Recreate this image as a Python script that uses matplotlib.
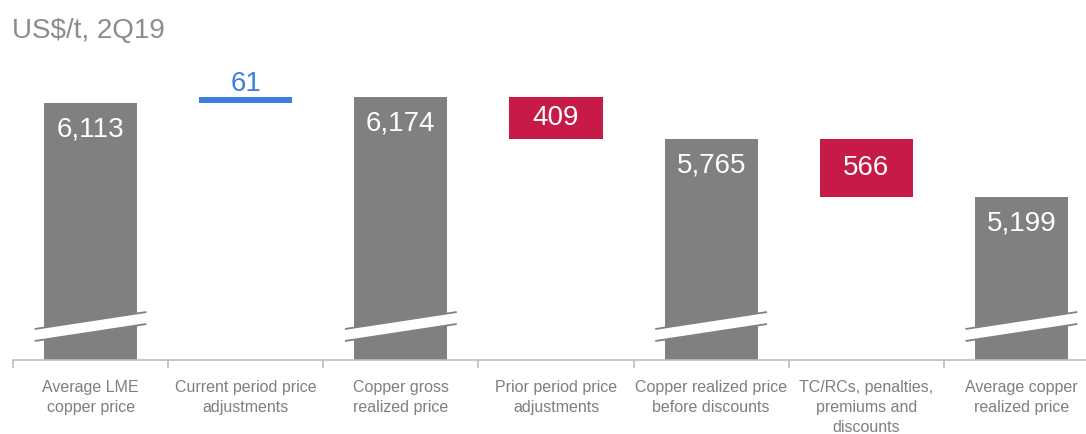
import matplotlib
matplotlib.use("Agg")
import matplotlib.pyplot as plt
from matplotlib import font_manager
from matplotlib.patches import Polygon

# Copper price bridge, US$/t for 2Q19
categories = [
    "Average LME\ncopper price",
    "Current period price\nadjustments",
    "Copper gross\nrealized price",
    "Prior period price\nadjustments",
    "Copper realized price\nbefore discounts",
    "TC/RCs, penalties,\npremiums and\ndiscounts",
    "Average copper\nrealized price",
]
start_value = 6113
deltas = {1: 61, 3: -409, 5: -566}
totals = {0: 6113, 2: 6174, 4: 5765, 6: 5199}
delta_labels = {1: "61", 3: "409", 5: "566"}

GRAY = "#7f8082"
RED = "#c71a46"
BLUE = "#3d7fe0"
TEXT = "#7f7f7f"
AXIS = "#bdbdbd"

available = {f.name for f in font_manager.fontManager.ttflist}
main_font = "Liberation Sans" if "Liberation Sans" in available else "DejaVu Sans"

W, H = 1086, 435
fig = plt.figure(figsize=(W / 100, H / 100), dpi=100)
ax = fig.add_axes([13 / W, 74 / H, 1086 / W, 361 / H])
ax.set_xlim(-0.5, 6.5)
ax.set_ylim(3610, 7130)

bar_w = 0.6
n = len(categories)

# running level for the bridge
level = start_value
bottoms, heights, colors = [], [], []
for i in range(n):
    if i in totals:
        level = totals[i]
        bottoms.append(ax.get_ylim()[0])
        heights.append(level - ax.get_ylim()[0])
        colors.append(GRAY)
    else:
        d = deltas[i]
        new_level = level + d
        bottoms.append(min(level, new_level))
        heights.append(abs(d))
        colors.append(BLUE if d > 0 else RED)
        level = new_level

ax.bar(range(n), heights, bottom=bottoms, width=bar_w, color=colors,
       edgecolor="none", zorder=2)

# value labels
for i in range(n):
    top = bottoms[i] + heights[i]
    if i in totals:
        ax.annotate(f"{totals[i]:,}", (i, top), xytext=(0, -9),
                    textcoords="offset points", ha="center", va="top",
                    color="white", fontsize=20, family=main_font, zorder=4)
    elif deltas[i] > 0:
        ax.annotate(delta_labels[i], (i, top), xytext=(0, 1),
                    textcoords="offset points", ha="center", va="bottom",
                    color=BLUE, fontsize=20, family=main_font, zorder=4)
    else:
        ax.annotate(delta_labels[i], (i, bottoms[i] + heights[i] / 2),
                    xytext=(0, 1), textcoords="offset points",
                    ha="center", va="center", color="white", fontsize=20,
                    family=main_font, zorder=4)

# axis-break slashes on the full bars
fig.canvas.draw()
y0 = ax.get_ylim()[0]
px_per_unit = (ax.transData.transform((0, y0 + 1000))[1]
               - ax.transData.transform((0, y0))[1]) / 1000.0
def up(px):
    return px / px_per_unit

half_span = 0.36
for i in totals:
    xl, xr = i - half_span, i + half_span
    lo_l, lo_r = y0 + up(19), y0 + up(36)
    hi_l, hi_r = lo_l + up(12), lo_r + up(12)
    ax.add_patch(Polygon([(xl, lo_l), (xr, lo_r), (xr, hi_r), (xl, hi_l)],
                         closed=True, facecolor="white", edgecolor="none",
                         zorder=3))
    ax.plot([xl, xr], [lo_l, lo_r], color=GRAY, lw=1.3, zorder=3,
            solid_capstyle="butt")
    ax.plot([xl, xr], [hi_l, hi_r], color=GRAY, lw=1.3, zorder=3,
            solid_capstyle="butt")

# axes styling
for s in ("top", "right", "left"):
    ax.spines[s].set_visible(False)
ax.spines["bottom"].set_color(AXIS)
ax.spines["bottom"].set_linewidth(1.2)
ax.set_yticks([])
ax.set_xticks([i - 0.5 for i in range(n + 1)])
ax.set_xticklabels([])
ax.tick_params(axis="x", length=6, width=1.2, color=AXIS, direction="out")

for i, lab in enumerate(categories):
    ax.annotate(lab, (i, y0), xytext=(0, -13.5), textcoords="offset points",
                ha="center", va="top", color=TEXT, fontsize=11.5,
                family=main_font, linespacing=1.42, annotation_clip=False)

fig.text(12 / W, 1 - 31 / H, "US$/t, 2Q19", ha="left", va="center",
         color="#8c8c8c", fontsize=20, family=main_font)

fig.savefig("out.png", dpi=100, facecolor="white")
